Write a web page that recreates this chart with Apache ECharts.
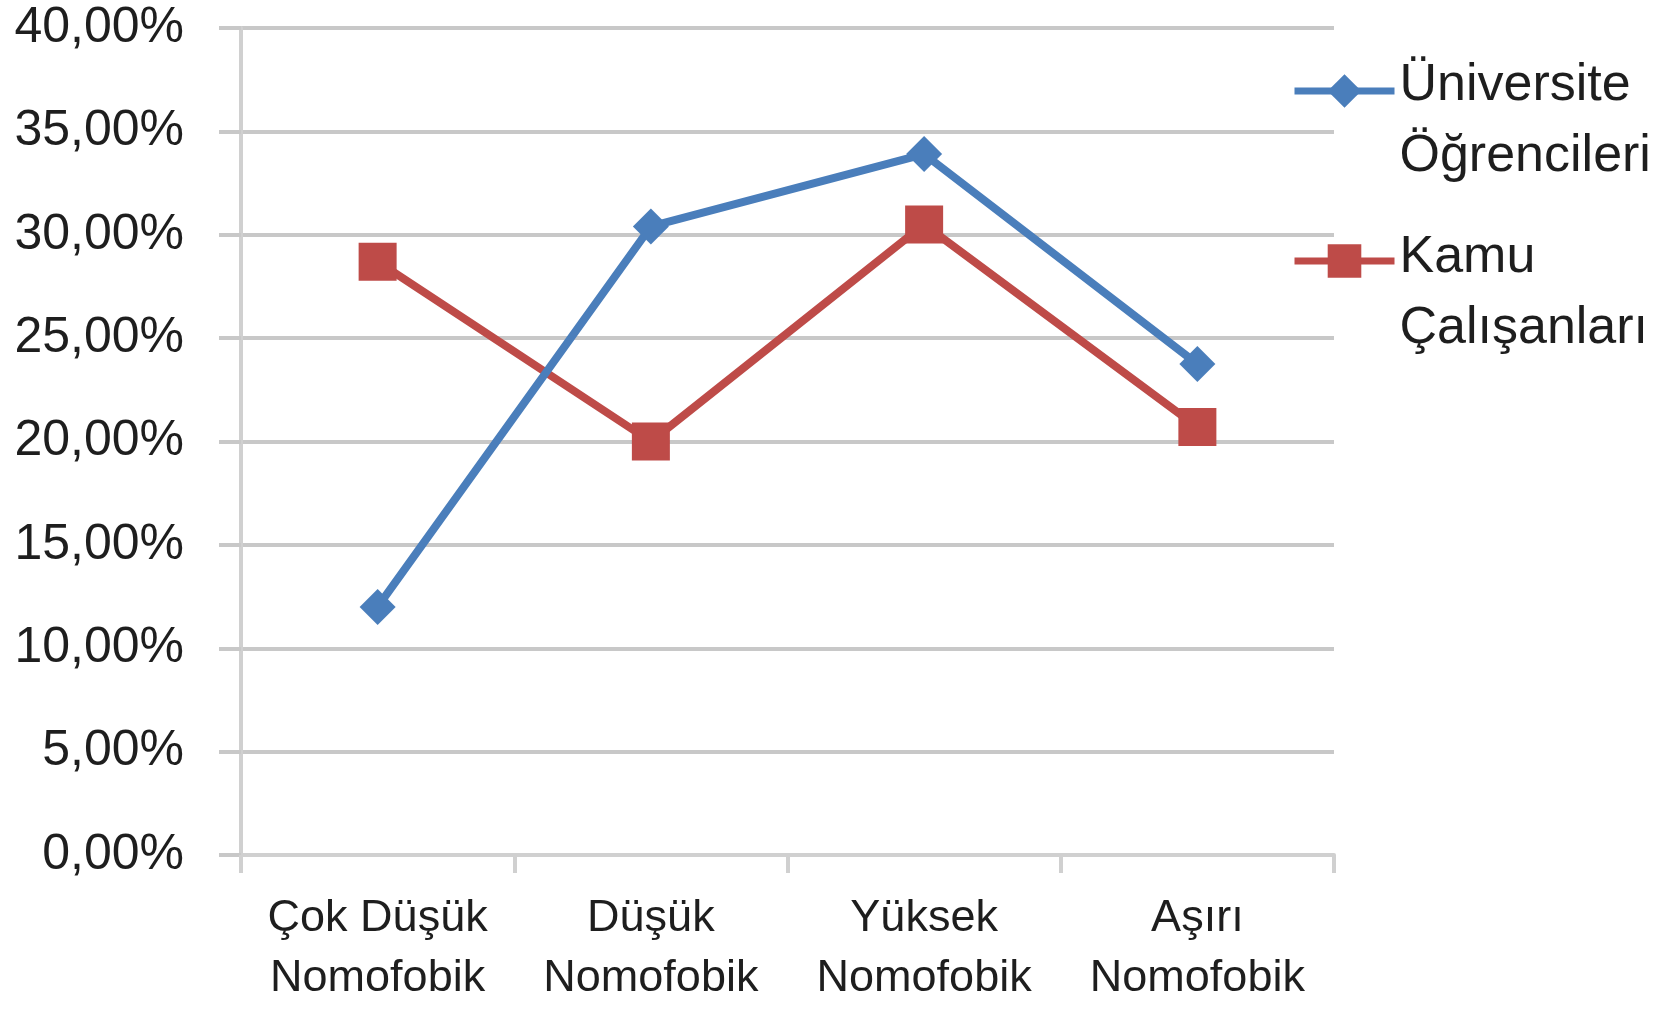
<!DOCTYPE html>
<html>
<head>
<meta charset="utf-8">
<script src="https://cdn.jsdelivr.net/npm/echarts@6/dist/echarts.min.js"></script>
<style>
html,body{margin:0;padding:0;background:#fff;}
#chart{width:1674px;height:1009px;}
</style>
</head>
<body>
<div id="chart"></div>
<script>
const categories = ['Çok Düşük\nNomofobik', 'Düşük\nNomofobik', 'Yüksek\nNomofobik', 'Aşırı\nNomofobik'];
const seriesNames = ['Üniversite\nÖğrencileri', 'Kamu\nÇalışanları'];
const universiteValues = [12.0, 30.4, 33.9, 23.75];
const kamuValues = [28.7, 20.0, 30.5, 20.7];
const yTicks = { min: 0, max: 40, interval: 5 };

const FONT = '"Liberation Sans", Arial, sans-serif';
const TXT = '#1e1e1e';
const GRID = '#c8c8c8';

function legendFormatter(name) {
  return '{gap|}\n' + name.split('\n').map(s => '{t|' + s + '}').join('\n');
}
function legendText(gap) {
  return {
    fontFamily: FONT, fontSize: 52, color: TXT,
    rich: {
      gap: { height: gap, lineHeight: gap, fontSize: 10 },
      t: { fontFamily: FONT, fontSize: 52, color: TXT, lineHeight: 71 }
    }
  };
}

const chart = echarts.init(document.getElementById('chart'), null, { renderer: 'canvas' });
chart.setOption({
  backgroundColor: '#ffffff',
  animation: false,
  grid: { left: 241, right: 340, top: 28, bottom: 139, containLabel: false },
  legend: [
    {
      data: [seriesNames[0]],
      orient: 'vertical', left: 1291, top: -10.5, padding: 0,
      itemWidth: 100, itemHeight: 42,
      lineStyle: { width: 7 },
      formatter: legendFormatter,
      textStyle: legendText(61)
    },
    {
      data: [seriesNames[1]],
      orient: 'vertical', left: 1291, top: 157.5, padding: 0,
      itemWidth: 100, itemHeight: 42,
      lineStyle: { width: 7 },
      formatter: legendFormatter,
      textStyle: legendText(65)
    }
  ],
  xAxis: {
    type: 'category',
    data: categories,
    boundaryGap: true,
    axisLine: { lineStyle: { color: '#d0d0d0', width: 4 } },
    axisTick: { show: true, alignWithLabel: false, length: 18, lineStyle: { color: '#d0d0d0', width: 4 } },
    axisLabel: { fontFamily: FONT, fontSize: 45, color: TXT, lineHeight: 60, margin: 34, interval: 0 },
    splitLine: { show: false }
  },
  yAxis: {
    type: 'value',
    min: yTicks.min, max: yTicks.max, interval: yTicks.interval,
    axisLine: { show: true, lineStyle: { color: '#d0d0d0', width: 4 } },
    axisTick: { show: true, length: 22, lineStyle: { color: GRID, width: 4 } },
    axisLabel: {
      fontFamily: FONT, fontSize: 50, color: TXT, margin: 57,
      formatter: v => v.toFixed(2).replace('.', ',') + '%'
    },
    splitLine: { show: true, lineStyle: { color: GRID, width: 4 } }
  },
  series: [
    {
      name: seriesNames[0], type: 'line', data: universiteValues,
      symbol: 'diamond', symbolSize: 36,
      lineStyle: { color: '#4A7EBB', width: 8 },
      itemStyle: { color: '#4A7EBB' },
      z: 3
    },
    {
      name: seriesNames[1], type: 'line', data: kamuValues,
      symbol: 'rect', symbolSize: 38,
      lineStyle: { color: '#BE4B48', width: 8 },
      itemStyle: { color: '#BE4B48' },
      z: 2
    }
  ]
});
</script>
</body>
</html>
